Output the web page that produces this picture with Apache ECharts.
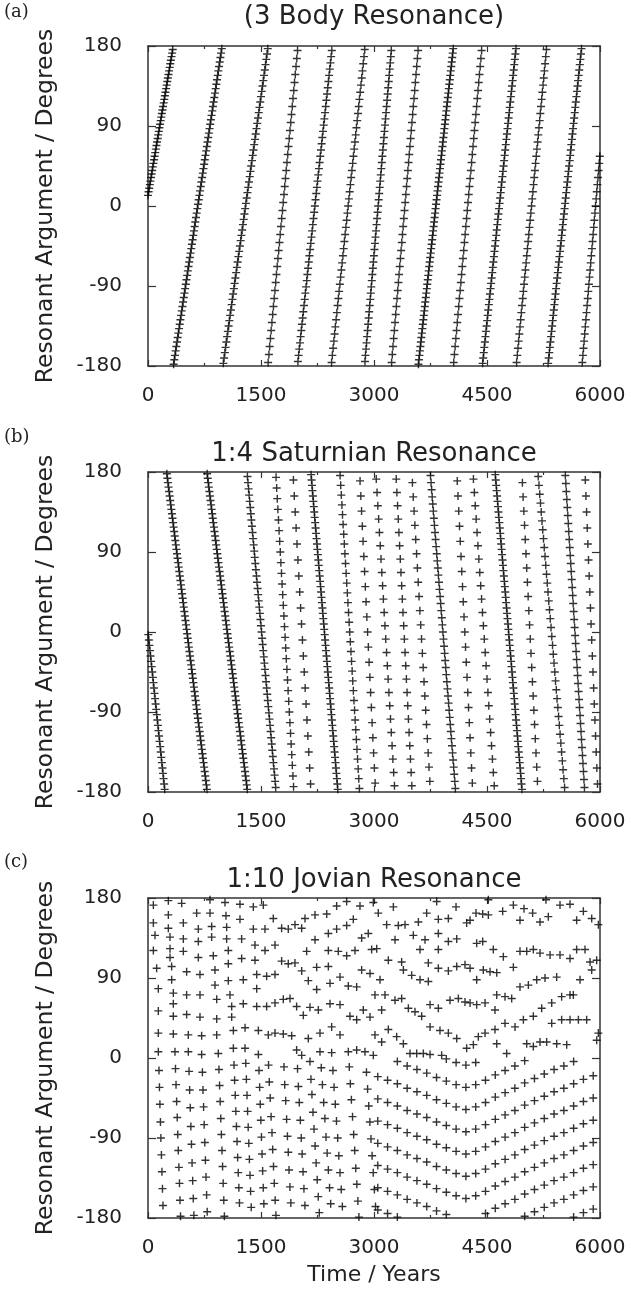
<!DOCTYPE html>
<html><head><meta charset="utf-8">
<script src="https://cdn.jsdelivr.net/npm/echarts/dist/echarts.min.js"></script>
<style>html,body{margin:0;padding:0;background:#fff}#c{width:631px;height:1289px}</style>
</head><body><div id="c"></div>
<script>
// ---- Panel (a): 3 body resonance, [time (yr), resonant argument (deg)] ----
const a01=[[0,12],[8,16],[16,20],[24,24],[32,28],[40,32],[48,36],[56,40],[64,44],[72,48],[80,52],[88,56],[96,60],[104,64],[112,68],[120,72],[128,76],[136,80],[144,84],[152,88],[160,92],[168,96],[176,100],[184,104],[192,108],[200,112],[208,116],[216,120],[224,124],[232,128],[240,132],[248,136],[256,140],[264,144],[272,148],[280,152],[288,156],[296,160],[304,164],[312,168],[320,172],[328,176]];
const a02=[[340,-178],[349,-173],[358,-168],[367,-163],[376,-158],[385,-153],[394,-148],[403,-143],[412,-138],[421,-133],[430,-128],[439,-123],[448,-118],[457,-113],[466,-108],[475,-103],[484,-98],[493,-93],[502,-88],[511,-83],[520,-78],[529,-73],[538,-68],[547,-63],[556,-58],[565,-53],[574,-48],[583,-43],[592,-38],[601,-33],[610,-28],[619,-23],[628,-18],[637,-13],[646,-8],[655,-3],[664,2],[673,7],[682,12],[691,17],[700,22],[709,27],[718,32],[727,37],[736,42],[745,47],[754,52],[763,57],[772,62],[781,67],[790,72],[799,77],[808,82],[817,87],[826,92],[835,97],[844,102],[853,107],[862,112],[871,117],[880,122],[889,127],[898,132],[907,137],[916,142],[925,147],[934,152],[943,157],[952,162],[961,167],[970,172],[979,177]];
const a03=[[1000,-177],[1010,-171],[1020,-165],[1030,-159],[1040,-153],[1050,-147],[1060,-141],[1070,-135],[1080,-129],[1090,-123],[1100,-117],[1110,-111],[1120,-105],[1130,-99],[1140,-93],[1150,-87],[1160,-81],[1170,-75],[1180,-69],[1190,-63],[1200,-57],[1210,-51],[1220,-45],[1230,-39],[1240,-33],[1250,-27],[1260,-21],[1270,-15],[1280,-9],[1290,-3],[1300,3],[1310,9],[1320,15],[1330,21],[1340,27],[1350,33],[1360,39],[1370,45],[1380,51],[1390,57],[1400,63],[1410,69],[1420,75],[1430,81],[1440,87],[1450,93],[1460,99],[1470,105],[1480,111],[1490,117],[1500,123],[1510,129],[1520,135],[1530,141],[1540,147],[1550,153],[1560,159],[1570,165],[1580,171],[1590,177]];
const a04=[[1595,-176],[1605,-167],[1615,-158],[1625,-149],[1635,-140],[1645,-131],[1655,-122],[1665,-113],[1675,-104],[1685,-95],[1695,-86],[1705,-77],[1715,-68],[1725,-59],[1735,-50],[1745,-41],[1755,-32],[1765,-23],[1775,-14],[1785,-5],[1795,4],[1805,13],[1815,22],[1825,31],[1835,40],[1845,49],[1855,58],[1865,67],[1875,76],[1885,85],[1895,94],[1905,103],[1915,112],[1925,121],[1935,130],[1945,139],[1955,148],[1965,157],[1975,166],[1985,175]];
const a05=[[1990,-175],[1999,-168],[2008,-161],[2017,-154],[2026,-147],[2035,-140],[2044,-133],[2053,-126],[2062,-119],[2071,-112],[2080,-105],[2089,-98],[2098,-91],[2107,-84],[2116,-77],[2125,-70],[2134,-63],[2143,-56],[2152,-49],[2161,-42],[2170,-35],[2179,-28],[2188,-21],[2197,-14],[2206,-7],[2215,0],[2224,7],[2233,14],[2242,21],[2251,28],[2260,35],[2269,42],[2278,49],[2287,56],[2296,63],[2305,70],[2314,77],[2323,84],[2332,91],[2341,98],[2350,105],[2359,112],[2368,119],[2377,126],[2386,133],[2395,140],[2404,147],[2413,154],[2422,161],[2431,168],[2440,175]];
const a06=[[2437,-176],[2447,-168],[2457,-160],[2467,-152],[2477,-144],[2487,-136],[2497,-128],[2507,-120],[2517,-112],[2527,-104],[2537,-96],[2547,-88],[2557,-80],[2567,-72],[2577,-64],[2587,-56],[2597,-48],[2607,-40],[2617,-32],[2627,-24],[2637,-16],[2647,-8],[2657,0],[2667,8],[2677,16],[2687,24],[2697,32],[2707,40],[2717,48],[2727,56],[2737,64],[2747,72],[2757,80],[2767,88],[2777,96],[2787,104],[2797,112],[2807,120],[2817,128],[2827,136],[2837,144],[2847,152],[2857,160],[2867,168],[2877,176]];
const a07=[[2880,-175],[2887,-168],[2894,-161],[2901,-154],[2908,-147],[2915,-140],[2922,-133],[2929,-126],[2936,-119],[2943,-112],[2950,-105],[2957,-98],[2964,-91],[2971,-84],[2978,-77],[2985,-70],[2992,-63],[2999,-56],[3006,-49],[3013,-42],[3020,-35],[3027,-28],[3034,-21],[3041,-14],[3048,-7],[3055,0],[3062,7],[3069,14],[3076,21],[3083,28],[3090,35],[3097,42],[3104,49],[3111,56],[3118,63],[3125,70],[3132,77],[3139,84],[3146,91],[3153,98],[3160,105],[3167,112],[3174,119],[3181,126],[3188,133],[3195,140],[3202,147],[3209,154],[3216,161],[3223,168],[3230,175]];
const a08=[[3234,-176],[3243,-167],[3252,-158],[3261,-149],[3270,-140],[3279,-131],[3288,-122],[3297,-113],[3306,-104],[3315,-95],[3324,-86],[3333,-77],[3342,-68],[3351,-59],[3360,-50],[3369,-41],[3378,-32],[3387,-23],[3396,-14],[3405,-5],[3414,4],[3423,13],[3432,22],[3441,31],[3450,40],[3459,49],[3468,58],[3477,67],[3486,76],[3495,85],[3504,94],[3513,103],[3522,112],[3531,121],[3540,130],[3549,139],[3558,148],[3567,157],[3576,166],[3585,175]];
const a09=[[3590,-178],[3596.5,-173],[3603,-168],[3609.5,-163],[3616,-158],[3622.5,-153],[3629,-148],[3635.5,-143],[3642,-138],[3648.5,-133],[3655,-128],[3661.5,-123],[3668,-118],[3674.5,-113],[3681,-108],[3687.5,-103],[3694,-98],[3700.5,-93],[3707,-88],[3713.5,-83],[3720,-78],[3726.5,-73],[3733,-68],[3739.5,-63],[3746,-58],[3752.5,-53],[3759,-48],[3765.5,-43],[3772,-38],[3778.5,-33],[3785,-28],[3791.5,-23],[3798,-18],[3804.5,-13],[3811,-8],[3817.5,-3],[3824,2],[3830.5,7],[3837,12],[3843.5,17],[3850,22],[3856.5,27],[3863,32],[3869.5,37],[3876,42],[3882.5,47],[3889,52],[3895.5,57],[3902,62],[3908.5,67],[3915,72],[3921.5,77],[3928,82],[3934.5,87],[3941,92],[3947.5,97],[3954,102],[3960.5,107],[3967,112],[3973.5,117],[3980,122],[3986.5,127],[3993,132],[3999.5,137],[4006,142],[4012.5,147],[4019,152],[4025.5,157],[4032,162],[4038.5,167],[4045,172],[4051.5,177]];
const a10=[[4058,-176],[4067.5,-167],[4077,-158],[4086.5,-149],[4096,-140],[4105.5,-131],[4115,-122],[4124.5,-113],[4134,-104],[4143.5,-95],[4153,-86],[4162.5,-77],[4172,-68],[4181.5,-59],[4191,-50],[4200.5,-41],[4210,-32],[4219.5,-23],[4229,-14],[4238.5,-5],[4248,4],[4257.5,13],[4267,22],[4276.5,31],[4286,40],[4295.5,49],[4305,58],[4314.5,67],[4324,76],[4333.5,85],[4343,94],[4352.5,103],[4362,112],[4371.5,121],[4381,130],[4390.5,139],[4400,148],[4409.5,157],[4419,166],[4428.5,175]];
const a11=[[4442,-177],[4449.5,-171],[4457,-165],[4464.5,-159],[4472,-153],[4479.5,-147],[4487,-141],[4494.5,-135],[4502,-129],[4509.5,-123],[4517,-117],[4524.5,-111],[4532,-105],[4539.5,-99],[4547,-93],[4554.5,-87],[4562,-81],[4569.5,-75],[4577,-69],[4584.5,-63],[4592,-57],[4599.5,-51],[4607,-45],[4614.5,-39],[4622,-33],[4629.5,-27],[4637,-21],[4644.5,-15],[4652,-9],[4659.5,-3],[4667,3],[4674.5,9],[4682,15],[4689.5,21],[4697,27],[4704.5,33],[4712,39],[4719.5,45],[4727,51],[4734.5,57],[4742,63],[4749.5,69],[4757,75],[4764.5,81],[4772,87],[4779.5,93],[4787,99],[4794.5,105],[4802,111],[4809.5,117],[4817,123],[4824.5,129],[4832,135],[4839.5,141],[4847,147],[4854.5,153],[4862,159],[4869.5,165],[4877,171],[4884.5,177]];
const a12=[[4893,-176],[4902,-168],[4911,-160],[4920,-152],[4929,-144],[4938,-136],[4947,-128],[4956,-120],[4965,-112],[4974,-104],[4983,-96],[4992,-88],[5001,-80],[5010,-72],[5019,-64],[5028,-56],[5037,-48],[5046,-40],[5055,-32],[5064,-24],[5073,-16],[5082,-8],[5091,0],[5100,8],[5109,16],[5118,24],[5127,32],[5136,40],[5145,48],[5154,56],[5163,64],[5172,72],[5181,80],[5190,88],[5199,96],[5208,104],[5217,112],[5226,120],[5235,128],[5244,136],[5253,144],[5262,152],[5271,160],[5280,168],[5289,176]];
const a13=[[5312,-177],[5319.5,-171],[5327,-165],[5334.5,-159],[5342,-153],[5349.5,-147],[5357,-141],[5364.5,-135],[5372,-129],[5379.5,-123],[5387,-117],[5394.5,-111],[5402,-105],[5409.5,-99],[5417,-93],[5424.5,-87],[5432,-81],[5439.5,-75],[5447,-69],[5454.5,-63],[5462,-57],[5469.5,-51],[5477,-45],[5484.5,-39],[5492,-33],[5499.5,-27],[5507,-21],[5514.5,-15],[5522,-9],[5529.5,-3],[5537,3],[5544.5,9],[5552,15],[5559.5,21],[5567,27],[5574.5,33],[5582,39],[5589.5,45],[5597,51],[5604.5,57],[5612,63],[5619.5,69],[5627,75],[5634.5,81],[5642,87],[5649.5,93],[5657,99],[5664.5,105],[5672,111],[5679.5,117],[5687,123],[5694.5,129],[5702,135],[5709.5,141],[5717,147],[5724.5,153],[5732,159],[5739.5,165],[5747,171],[5754.5,177]];
const a14=[[5765,-176],[5773,-168],[5781,-160],[5789,-152],[5797,-144],[5805,-136],[5813,-128],[5821,-120],[5829,-112],[5837,-104],[5845,-96],[5853,-88],[5861,-80],[5869,-72],[5877,-64],[5885,-56],[5893,-48],[5901,-40],[5909,-32],[5917,-24],[5925,-16],[5933,-8],[5941,0],[5949,8],[5957,16],[5965,24],[5973,32],[5981,40],[5989,48],[5997,56]];

// ---- Panel (b): 1:4 Saturnian resonance ----
const b01=[[4,-3],[11.5,-9],[19,-15],[26.5,-21],[34,-27],[41.5,-33],[49,-39],[56.5,-45],[64,-51],[71.5,-57],[79,-63],[86.5,-69],[94,-75],[101.5,-81],[109,-87],[116.5,-93],[124,-99],[131.5,-105],[139,-111],[146.5,-117],[154,-123],[161.5,-129],[169,-135],[176.5,-141],[184,-147],[191.5,-153],[199,-159],[206.5,-165],[214,-171],[221.5,-177]];
const b02=[[250,178],[257.5,173],[265,168],[272.5,163],[280,158],[287.5,153],[295,148],[302.5,143],[310,138],[317.5,133],[325,128],[332.5,123],[340,118],[347.5,113],[355,108],[362.5,103],[370,98],[377.5,93],[385,88],[392.5,83],[400,78],[407.5,73],[415,68],[422.5,63],[430,58],[437.5,53],[445,48],[452.5,43],[460,38],[467.5,33],[475,28],[482.5,23],[490,18],[497.5,13],[505,8],[512.5,3],[520,-2],[527.5,-7],[535,-12],[542.5,-17],[550,-22],[557.5,-27],[565,-32],[572.5,-37],[580,-42],[587.5,-47],[595,-52],[602.5,-57],[610,-62],[617.5,-67],[625,-72],[632.5,-77],[640,-82],[647.5,-87],[655,-92],[662.5,-97],[670,-102],[677.5,-107],[685,-112],[692.5,-117],[700,-122],[707.5,-127],[715,-132],[722.5,-137],[730,-142],[737.5,-147],[745,-152],[752.5,-157],[760,-162],[767.5,-167],[775,-172],[782.5,-177]];
const b03=[[785,178],[792.5,173],[800,168],[807.5,163],[815,158],[822.5,153],[830,148],[837.5,143],[845,138],[852.5,133],[860,128],[867.5,123],[875,118],[882.5,113],[890,108],[897.5,103],[905,98],[912.5,93],[920,88],[927.5,83],[935,78],[942.5,73],[950,68],[957.5,63],[965,58],[972.5,53],[980,48],[987.5,43],[995,38],[1002.5,33],[1010,28],[1017.5,23],[1025,18],[1032.5,13],[1040,8],[1047.5,3],[1055,-2],[1062.5,-7],[1070,-12],[1077.5,-17],[1085,-22],[1092.5,-27],[1100,-32],[1107.5,-37],[1115,-42],[1122.5,-47],[1130,-52],[1137.5,-57],[1145,-62],[1152.5,-67],[1160,-72],[1167.5,-77],[1175,-82],[1182.5,-87],[1190,-92],[1197.5,-97],[1205,-102],[1212.5,-107],[1220,-112],[1227.5,-117],[1235,-122],[1242.5,-127],[1250,-132],[1257.5,-137],[1265,-142],[1272.5,-147],[1280,-152],[1287.5,-157],[1295,-162],[1302.5,-167],[1310,-172],[1317.5,-177]];
const b04=[[1320,175],[1327.5,168],[1335,161],[1342.5,154],[1350,147],[1357.5,140],[1365,133],[1372.5,126],[1380,119],[1387.5,112],[1395,105],[1402.5,98],[1410,91],[1417.5,84],[1425,77],[1432.5,70],[1440,63],[1447.5,56],[1455,49],[1462.5,42],[1470,35],[1477.5,28],[1485,21],[1492.5,14],[1500,7],[1507.5,0],[1515,-7],[1522.5,-14],[1530,-21],[1537.5,-28],[1545,-35],[1552.5,-42],[1560,-49],[1567.5,-56],[1575,-63],[1582.5,-70],[1590,-77],[1597.5,-84],[1605,-91],[1612.5,-98],[1620,-105],[1627.5,-112],[1635,-119],[1642.5,-126],[1650,-133],[1657.5,-140],[1665,-147],[1672.5,-154],[1680,-161],[1687.5,-168],[1695,-175]];
const b05=[[1700,174],[1708,162],[1716,150],[1724,138],[1732,126],[1740,114],[1748,102],[1756,90],[1764,78],[1772,66],[1780,54],[1788,42],[1796,30],[1804,18],[1812,6],[1820,-6],[1828,-18],[1836,-30],[1844,-42],[1852,-54],[1860,-66],[1868,-78],[1876,-90],[1884,-102],[1892,-114],[1900,-126],[1908,-138],[1916,-150],[1924,-162],[1932,-174]];
const b06=[[1930,171],[1942,153],[1954,135],[1966,117],[1978,99],[1990,81],[2002,63],[2014,45],[2026,27],[2038,9],[2050,-9],[2062,-27],[2074,-45],[2086,-63],[2098,-81],[2110,-99],[2122,-117],[2134,-135],[2146,-153],[2158,-171]];
const b07=[[2165,177],[2171,171],[2177,165],[2183,159],[2189,153],[2195,147],[2201,141],[2207,135],[2213,129],[2219,123],[2225,117],[2231,111],[2237,105],[2243,99],[2249,93],[2255,87],[2261,81],[2267,75],[2273,69],[2279,63],[2285,57],[2291,51],[2297,45],[2303,39],[2309,33],[2315,27],[2321,21],[2327,15],[2333,9],[2339,3],[2345,-3],[2351,-9],[2357,-15],[2363,-21],[2369,-27],[2375,-33],[2381,-39],[2387,-45],[2393,-51],[2399,-57],[2405,-63],[2411,-69],[2417,-75],[2423,-81],[2429,-87],[2435,-93],[2441,-99],[2447,-105],[2453,-111],[2459,-117],[2465,-123],[2471,-129],[2477,-135],[2483,-141],[2489,-147],[2495,-153],[2501,-159],[2507,-165],[2513,-171],[2519,-177]];
const b08=[[2550,176],[2558,165],[2566,154],[2574,143],[2582,132],[2590,121],[2598,110],[2606,99],[2614,88],[2622,77],[2630,66],[2638,55],[2646,44],[2654,33],[2662,22],[2670,11],[2678,0],[2686,-11],[2694,-22],[2702,-33],[2710,-44],[2718,-55],[2726,-66],[2734,-77],[2742,-88],[2750,-99],[2758,-110],[2766,-121],[2774,-132],[2782,-143],[2790,-154],[2798,-165],[2806,-176]];
const b09=[[2815,170],[2825,153],[2835,136],[2845,119],[2855,102],[2865,85],[2875,68],[2885,51],[2895,34],[2905,17],[2915,0],[2925,-17],[2935,-34],[2945,-51],[2955,-68],[2965,-85],[2975,-102],[2985,-119],[2995,-136],[3005,-153],[3015,-170]];
const b10=[[3030,172],[3040.5,157],[3051,142],[3061.5,127],[3072,112],[3082.5,97],[3093,82],[3103.5,67],[3114,52],[3124.5,37],[3135,22],[3145.5,7],[3156,-8],[3166.5,-23],[3177,-38],[3187.5,-53],[3198,-68],[3208.5,-83],[3219,-98],[3229.5,-113],[3240,-128],[3250.5,-143],[3261,-158],[3271.5,-173]];
const b11=[[3295,172],[3304,157],[3313,142],[3322,127],[3331,112],[3340,97],[3349,82],[3358,67],[3367,52],[3376,37],[3385,22],[3394,7],[3403,-8],[3412,-23],[3421,-38],[3430,-53],[3439,-68],[3448,-83],[3457,-98],[3466,-113],[3475,-128],[3484,-143],[3493,-158],[3502,-173]];
const b12=[[3510,168],[3521,152],[3532,136],[3543,120],[3554,104],[3565,88],[3576,72],[3587,56],[3598,40],[3609,24],[3620,8],[3631,-8],[3642,-24],[3653,-40],[3664,-56],[3675,-72],[3686,-88],[3697,-104],[3708,-120],[3719,-136],[3730,-152],[3741,-168]];
const b13=[[3750,176],[3757.5,168],[3765,160],[3772.5,152],[3780,144],[3787.5,136],[3795,128],[3802.5,120],[3810,112],[3817.5,104],[3825,96],[3832.5,88],[3840,80],[3847.5,72],[3855,64],[3862.5,56],[3870,48],[3877.5,40],[3885,32],[3892.5,24],[3900,16],[3907.5,8],[3915,0],[3922.5,-8],[3930,-16],[3937.5,-24],[3945,-32],[3952.5,-40],[3960,-48],[3967.5,-56],[3975,-64],[3982.5,-72],[3990,-80],[3997.5,-88],[4005,-96],[4012.5,-104],[4020,-112],[4027.5,-120],[4035,-128],[4042.5,-136],[4050,-144],[4057.5,-152],[4065,-160],[4072.5,-168],[4080,-176]];
const b14=[[4105,170],[4115,153],[4125,136],[4135,119],[4145,102],[4155,85],[4165,68],[4175,51],[4185,34],[4195,17],[4205,0],[4215,-17],[4225,-34],[4235,-51],[4245,-68],[4255,-85],[4265,-102],[4275,-119],[4285,-136],[4295,-153],[4305,-170]];
const b15=[[4320,172],[4332,157],[4344,142],[4356,127],[4368,112],[4380,97],[4392,82],[4404,67],[4416,52],[4428,37],[4440,22],[4452,7],[4464,-8],[4476,-23],[4488,-38],[4500,-53],[4512,-68],[4524,-83],[4536,-98],[4548,-113],[4560,-128],[4572,-143],[4584,-158],[4596,-173]];
const b16=[[4610,177],[4616,171],[4622,165],[4628,159],[4634,153],[4640,147],[4646,141],[4652,135],[4658,129],[4664,123],[4670,117],[4676,111],[4682,105],[4688,99],[4694,93],[4700,87],[4706,81],[4712,75],[4718,69],[4724,63],[4730,57],[4736,51],[4742,45],[4748,39],[4754,33],[4760,27],[4766,21],[4772,15],[4778,9],[4784,3],[4790,-3],[4796,-9],[4802,-15],[4808,-21],[4814,-27],[4820,-33],[4826,-39],[4832,-45],[4838,-51],[4844,-57],[4850,-63],[4856,-69],[4862,-75],[4868,-81],[4874,-87],[4880,-93],[4886,-99],[4892,-105],[4898,-111],[4904,-117],[4910,-123],[4916,-129],[4922,-135],[4928,-141],[4934,-147],[4940,-153],[4946,-159],[4952,-165],[4958,-171],[4964,-177]];
const b17=[[4970,168],[4979.5,152],[4989,136],[4998.5,120],[5008,104],[5017.5,88],[5027,72],[5036.5,56],[5046,40],[5055.5,24],[5065,8],[5074.5,-8],[5084,-24],[5093.5,-40],[5103,-56],[5112.5,-72],[5122,-88],[5131.5,-104],[5141,-120],[5150.5,-136],[5160,-152],[5169.5,-168]];
const b18=[[5180,175],[5190,165],[5200,155],[5210,145],[5220,135],[5230,125],[5240,115],[5250,105],[5260,95],[5270,85],[5280,75],[5290,65],[5300,55],[5310,45],[5320,35],[5330,25],[5340,15],[5350,5],[5360,-5],[5370,-15],[5380,-25],[5390,-35],[5400,-45],[5410,-55],[5420,-65],[5430,-75],[5440,-85],[5450,-95],[5460,-105],[5470,-115],[5480,-125],[5490,-135],[5500,-145],[5510,-155],[5520,-165],[5530,-175]];
const b19=[[5540,176],[5546.5,167],[5553,158],[5559.5,149],[5566,140],[5572.5,131],[5579,122],[5585.5,113],[5592,104],[5598.5,95],[5605,86],[5611.5,77],[5618,68],[5624.5,59],[5631,50],[5637.5,41],[5644,32],[5650.5,23],[5657,14],[5663.5,5],[5670,-4],[5676.5,-13],[5683,-22],[5689.5,-31],[5696,-40],[5702.5,-49],[5709,-58],[5715.5,-67],[5722,-76],[5728.5,-85],[5735,-94],[5741.5,-103],[5748,-112],[5754.5,-121],[5761,-130],[5767.5,-139],[5774,-148],[5780.5,-157],[5787,-166],[5793.5,-175]];
const b20=[[5805,171],[5813.5,153],[5822,135],[5830.5,117],[5839,99],[5847.5,81],[5856,63],[5864.5,45],[5873,27],[5881.5,9],[5890,-9],[5898.5,-27],[5907,-45],[5915.5,-63],[5924,-81],[5932.5,-99],[5941,-117],[5949.5,-135],[5958,-153],[5966.5,-171]];

// ---- Panel (c): 1:10 Jovian resonance ----
// upper half, left
const c01=[[71,172],[270,177],[447,174],[823,178],[1022,175],[1221,173],[1398,170],[1531,172],[2504,171],[2637,176],[2814,171],[2991,175],
[270,161],[646,163],[823,163],[1035,160],[1221,156],[1663,157],[2084,157],[2217,161],[2372,162],[2725,156],[3057,163],
[71,152],[270,146],[469,152],[668,145],[845,148],[1044,147],[1398,145],[1553,145],[1774,146],[1862,145],[1951,150],[2040,146],[2504,145],[2637,149],
[93,138],[292,136],[469,134],[668,131],[845,136],[1044,134],[1243,134],[1420,127],[1553,121],[1686,127],[2217,133],[2394,140],[2836,135],[2924,140]];
const c02=[[71,121],[292,123],[292,113],[469,120],[668,113],[867,115],[1066,121],[1243,112],[1420,110],[1774,109],[1862,106],[1951,107],[2106,120],[2040,98],[2239,102],[2394,103],[2394,121],[2526,120],[2637,115],[2748,121],[2969,122],[3036,123],
[115,101],[314,103],[513,97],[690,94],[889,99],[1066,106],[1443,94],[1575,92],[1686,94],[2128,87],[2239,77],[2416,84],[2549,91],[2659,81],[2770,80],[2836,99],[2947,95],
[314,88],[137,78],[336,73],[513,71],[690,71],[889,82],[1066,87],[1265,88],[1443,78],[3013,71]];
const c03=[[336,61],[912,66],[1088,71],[1111,58],[1265,61],[1443,58],[1575,58],[1686,62],[1796,66],[1885,67],[1973,58],[2062,48],[2150,57],[2261,54],[2416,61],[2549,60],[2681,47],[2770,43],[2858,54],[2947,46],
[137,53],[336,47],[513,49],[690,46],[912,44],[1111,46],[137,28],[336,27],[535,26],[712,25],[912,26],[1133,31],[1288,34],[1465,31],[1597,26],[1686,28],[1796,27],[1907,25],[2128,22],[2283,28],[2438,35],[2549,26],[3013,26],
[137,7],[358,7],[535,7],[712,4],[933,5],[1133,11],[1288,11],[1465,4],[1973,9],[2040,3],[2283,7],[2438,6],[2659,7],[2770,9],[2880,7],[2991,3]];
// upper half, right
const c04=[[3257,170],[3832,176],[4089,170],[4518,178],[4850,172],[4708,165],[4991,168],[5106,163],[5283,178],[5469,172],[5602,173],[5779,165],[5890,157],[5978,150],
[3168,150],[3323,149],[3412,150],[3589,153],[3699,163],[3854,156],[3987,157],[4230,152],[4275,155],[4354,163],[4443,162],[4518,161],[4938,155],[5204,153],[5314,159],[5690,155],
[3279,133],[3522,138],[3677,133],[3854,140],[3987,131],[4098,134],[3611,122],[3854,122],[4363,129],[4443,131],[4584,122],[4717,114],[4938,120],[5027,120],[5115,122],[5204,118],[5337,116],[5469,116],[5602,112],[5690,122],[5801,122],[5868,108],[5956,110]];
const c05=[[3190,110],[3367,108],[3390,99],[3500,93],[3611,88],[3721,86],[3721,107],[3854,101],[3987,98],[4098,103],[4208,105],[4275,101],[4363,88],[4451,99],[4540,97],[4629,96],[4850,102],[3080,88],
[3146,71],[3279,65],[3367,67],[3456,56],[3544,52],[3633,47],[3744,60],[3854,56],[4009,65],[4120,67],[4208,63],[4275,62],[4363,60],[4474,62],[4606,54],[4629,71],[4739,69],[4828,67],[4938,80],[5049,82],[5160,88],[5270,90],[5425,91],[5646,71],[5735,88],[5890,99],[3102,54]];
const c06=[[3102,18],[3190,32],[3301,24],[3390,16],[3744,35],[3876,31],[3987,28],[4098,22],[4230,11],[4319,15],[4385,24],[4474,28],[4606,32],[4739,39],[4872,35],[4983,43],[5115,47],[5226,56],[5359,62],[5491,69],[5602,71],[5359,39],[5491,43],[5602,43],[5713,43],[5823,43],[5956,20],[5978,28],
[3478,5],[3567,5],[3655,5],[3744,4],[3898,3],[4761,5],[4629,16],[5027,16],[5115,13],[5204,18],[5292,18],[5425,16],[5558,15]];
// lower half, left
const c07=[[146,-14],[152,-33],[158,-52],[165,-72],[171,-90],[178,-109],[185,-128],[192,-147],[199,-166],
[365,-12],[372,-30],[380,-49],[388,-67],[395,-86],[402,-104],[410,-123],[418,-141],[425,-160],[432,-178],
[545,-15],[553,-36],[561,-56],[569,-77],[577,-97],[585,-118],[593,-138],[601,-158],[609,-177],
[722,-16],[730,-36],[738,-55],[746,-75],[754,-95],[762,-115],[770,-134],[778,-154],[786,-173],
[942,-13],[950,-31],[958,-49],[966,-68],[974,-86],[982,-104],[990,-122],[998,-141],[1006,-160],[1014,-178],
[1142,-8],[1150,-25],[1158,-42],[1166,-60],[1174,-77],[1182,-94],[1190,-112],[1198,-129],[1206,-146],[1214,-163],
[1298,-6],[1306,-24],[1314,-42],[1322,-60],[1330,-78],[1338,-96],[1346,-114],[1354,-132],[1362,-150],[1370,-168],
[1474,-14],[1482,-33],[1490,-52],[1498,-70],[1506,-89],[1514,-108],[1522,-127],[1530,-146],[1538,-164]];
const c08=[[1600,-8],[1610,-27],[1622,-45],[1634,-66],[1646,-84],[1655,-103],[1666,-122],[1676,-141],[1688,-160],[1698,-177],
[1805,-10],[1815,-30],[1828,-48],[1840,-69],[1851,-88],[1862,-106],[1872,-126],[1884,-145],[1896,-163],
[1985,-12],[1996,-32],[2008,-50],[2022,-70],[2034,-90],[2046,-108],[2058,-128],[2070,-147],[2083,-166],
[2150,-4],[2163,-24],[2176,-41],[2190,-61],[2204,-80],[2218,-99],[2232,-118],[2246,-137],[2260,-156],[2274,-174],
[2300,-11],[2315,-30],[2332,-50],[2348,-68],[2363,-89],[2378,-107],[2394,-126],[2410,-146],[2425,-164],
[2455,-14],[2470,-33],[2486,-52],[2502,-71],[2518,-90],[2533,-110],[2549,-129],[2565,-148],[2580,-167],
[2672,-10],[2686,-29],[2700,-47],[2715,-66],[2730,-86],[2744,-104],[2758,-124],[2772,-142],[2786,-161],[2800,-179],
[2900,-16],[2915,-35],[2930,-54],[2945,-72],[2960,-91],[2975,-110],[2990,-129],[3005,-148],[3020,-167]];
// lower half, right
const c09=[[3960,-1],[4090,-5],[4220,-8],[4350,-5],
[3310,-4],[3440,-9],[3570,-13],[3700,-17],[3830,-22],[3960,-26],[4090,-30],[4220,-33],[4350,-30],[4480,-25],[4610,-19],[4740,-14],[4870,-9],[5000,-3],
[3050,-21],[3180,-25],[3310,-29],[3440,-34],[3570,-38],[3700,-42],[3830,-47],[3960,-51],[4090,-55],[4220,-58],[4350,-55],[4480,-50],[4610,-44],[4740,-39],[4870,-34],[5000,-28],[5130,-23],[5260,-18],[5390,-13],[5520,-9],[5650,-4],
[3050,-46],[3180,-50],[3310,-54],[3440,-59],[3570,-63],[3700,-67],[3830,-72],[3960,-76],[4090,-80],[4220,-83],[4350,-80],[4480,-75],[4610,-69],[4740,-64],[4870,-59],[5000,-53],[5130,-48],[5260,-43],[5390,-38],[5520,-34],[5650,-29],[5780,-24],[5910,-20]];
const c10=[[3050,-71],[3180,-75],[3310,-79],[3440,-84],[3570,-88],[3700,-92],[3830,-97],[3960,-101],[4090,-105],[4220,-108],[4350,-105],[4480,-100],[4610,-94],[4740,-89],[4870,-84],[5000,-78],[5130,-73],[5260,-68],[5390,-63],[5520,-59],[5650,-54],[5780,-49],[5910,-45],
[3050,-96],[3180,-100],[3310,-104],[3440,-109],[3570,-113],[3700,-117],[3830,-122],[3960,-126],[4090,-130],[4220,-133],[4350,-130],[4480,-125],[4610,-119],[4740,-114],[4870,-109],[5000,-103],[5130,-98],[5260,-93],[5390,-88],[5520,-84],[5650,-79],[5780,-74],[5910,-70]];
const c11=[[3050,-121],[3180,-125],[3310,-129],[3440,-134],[3570,-138],[3700,-142],[3830,-147],[3960,-151],[4090,-155],[4220,-158],[4350,-155],[4480,-150],[4610,-144],[4740,-139],[4870,-134],[5000,-128],[5130,-123],[5260,-118],[5390,-113],[5520,-109],[5650,-104],[5780,-99],[5910,-95],
[3050,-146],[3180,-150],[3310,-154],[3440,-159],[3570,-163],[3700,-167],[3830,-172],[3960,-176],[4480,-175],[4610,-169],[4740,-164],[4870,-159],[5000,-153],[5130,-148],[5260,-143],[5390,-138],[5520,-134],[5650,-129],[5780,-124],[5910,-120],
[3050,-171],[3180,-175],[3310,-179],[5000,-178],[5130,-173],[5260,-168],[5390,-163],[5520,-159],[5650,-154],[5780,-149],[5910,-145],
[5650,-179],[5780,-174],[5910,-170]];

const titles=['(3 Body Resonance)','1:4 Saturnian Resonance','1:10 Jovian Resonance'];
const letters=['(a)','(b)','(c)'];
const xTicks=[0,1500,3000,4500,6000];
const yTicks=[-180,-90,0,90,180];

const panelData=[
  [].concat(a01,a02,a03,a04,a05,a06,a07,a08,a09,a10,a11,a12,a13,a14),
  [].concat(b01,b02,b03,b04,b05,b06,b07,b08,b09,b10,b11,b12,b13,b14,b15,b16,b17,b18,b19,b20),
  [].concat(c01,c02,c03,c04,c05,c06,c07,c08,c09,c10,c11)
];

const FONT="'DejaVu Sans', sans-serif";
const INK='#222';
const PLUS='path://M0,5L10,5M5,0L5,10';
const tops=[46,472,898], titleY=[17,454,880], letterY=[12,437,862];
const L=148,W=452,H=320;
const grid=[],xAxis=[],yAxis=[],series=[],graphic=[];
const line={show:true,onZero:false,lineStyle:{color:'#333',width:1.5}};
for(let i=0;i<3;i++){
  grid.push({left:L,top:tops[i],width:W,height:H});
  const xBase={gridIndex:i,type:'value',min:xTicks[0],max:xTicks[xTicks.length-1],interval:xTicks[1]-xTicks[0],
    axisLine:line,axisTick:{show:true,inside:true,length:6,lineStyle:{color:'#333',width:1.2}},
    minorTick:{show:true,splitNumber:2,length:3,lineStyle:{color:'#333',width:1.2}},
    splitLine:{show:false},minorSplitLine:{show:false}};
  xAxis.push(Object.assign({},xBase,{position:'bottom',
    axisLabel:{show:true,fontFamily:FONT,fontSize:20,color:INK,margin:20,formatter:v=>String(v)},
    name:i===2?'Time / Years':'',nameLocation:'middle',nameGap:46,
    nameTextStyle:{fontFamily:FONT,fontSize:22,color:INK}}));
  xAxis.push(Object.assign({},xBase,{position:'top',axisLabel:{show:false}}));
  const yBase={gridIndex:i,type:'value',min:yTicks[0],max:yTicks[yTicks.length-1],interval:yTicks[1]-yTicks[0],
    axisLine:line,axisTick:{show:true,inside:true,length:8,lineStyle:{color:'#333',width:1.2}},
    splitLine:{show:false}};
  yAxis.push(Object.assign({},yBase,{position:'left',
    axisLabel:{show:true,fontFamily:FONT,fontSize:20,color:INK,margin:26,formatter:v=>String(v)},
    name:'Resonant Argument / Degrees',nameLocation:'middle',nameRotate:90,nameGap:90,
    nameTextStyle:{fontFamily:FONT,fontSize:23.5,color:INK}}));
  yAxis.push(Object.assign({},yBase,{position:'right',axisLabel:{show:false}}));
  series.push({type:'scatter',xAxisIndex:2*i,yAxisIndex:2*i,data:panelData[i],
    symbol:PLUS,symbolSize:8,silent:true,
    itemStyle:{color:'rgba(0,0,0,0)',borderColor:'#000',borderWidth:1.4}});
  graphic.push({type:'text',x:L+W/2,y:titleY[i],
    style:{text:titles[i],font:'26px '+FONT,fill:INK,align:'center',verticalAlign:'middle',textAlign:'center',textVerticalAlign:'middle'}});
  graphic.push({type:'text',x:4,y:letterY[i],
    style:{text:letters[i],font:"18px 'DejaVu Serif', serif",fill:INK,align:'left',verticalAlign:'middle',textAlign:'left',textVerticalAlign:'middle'}});
}
const chart=echarts.init(document.getElementById('c'),null,{renderer:'canvas'});
chart.setOption({animation:false,backgroundColor:'#fff',grid,xAxis,yAxis,series,graphic});
</script></body></html>
